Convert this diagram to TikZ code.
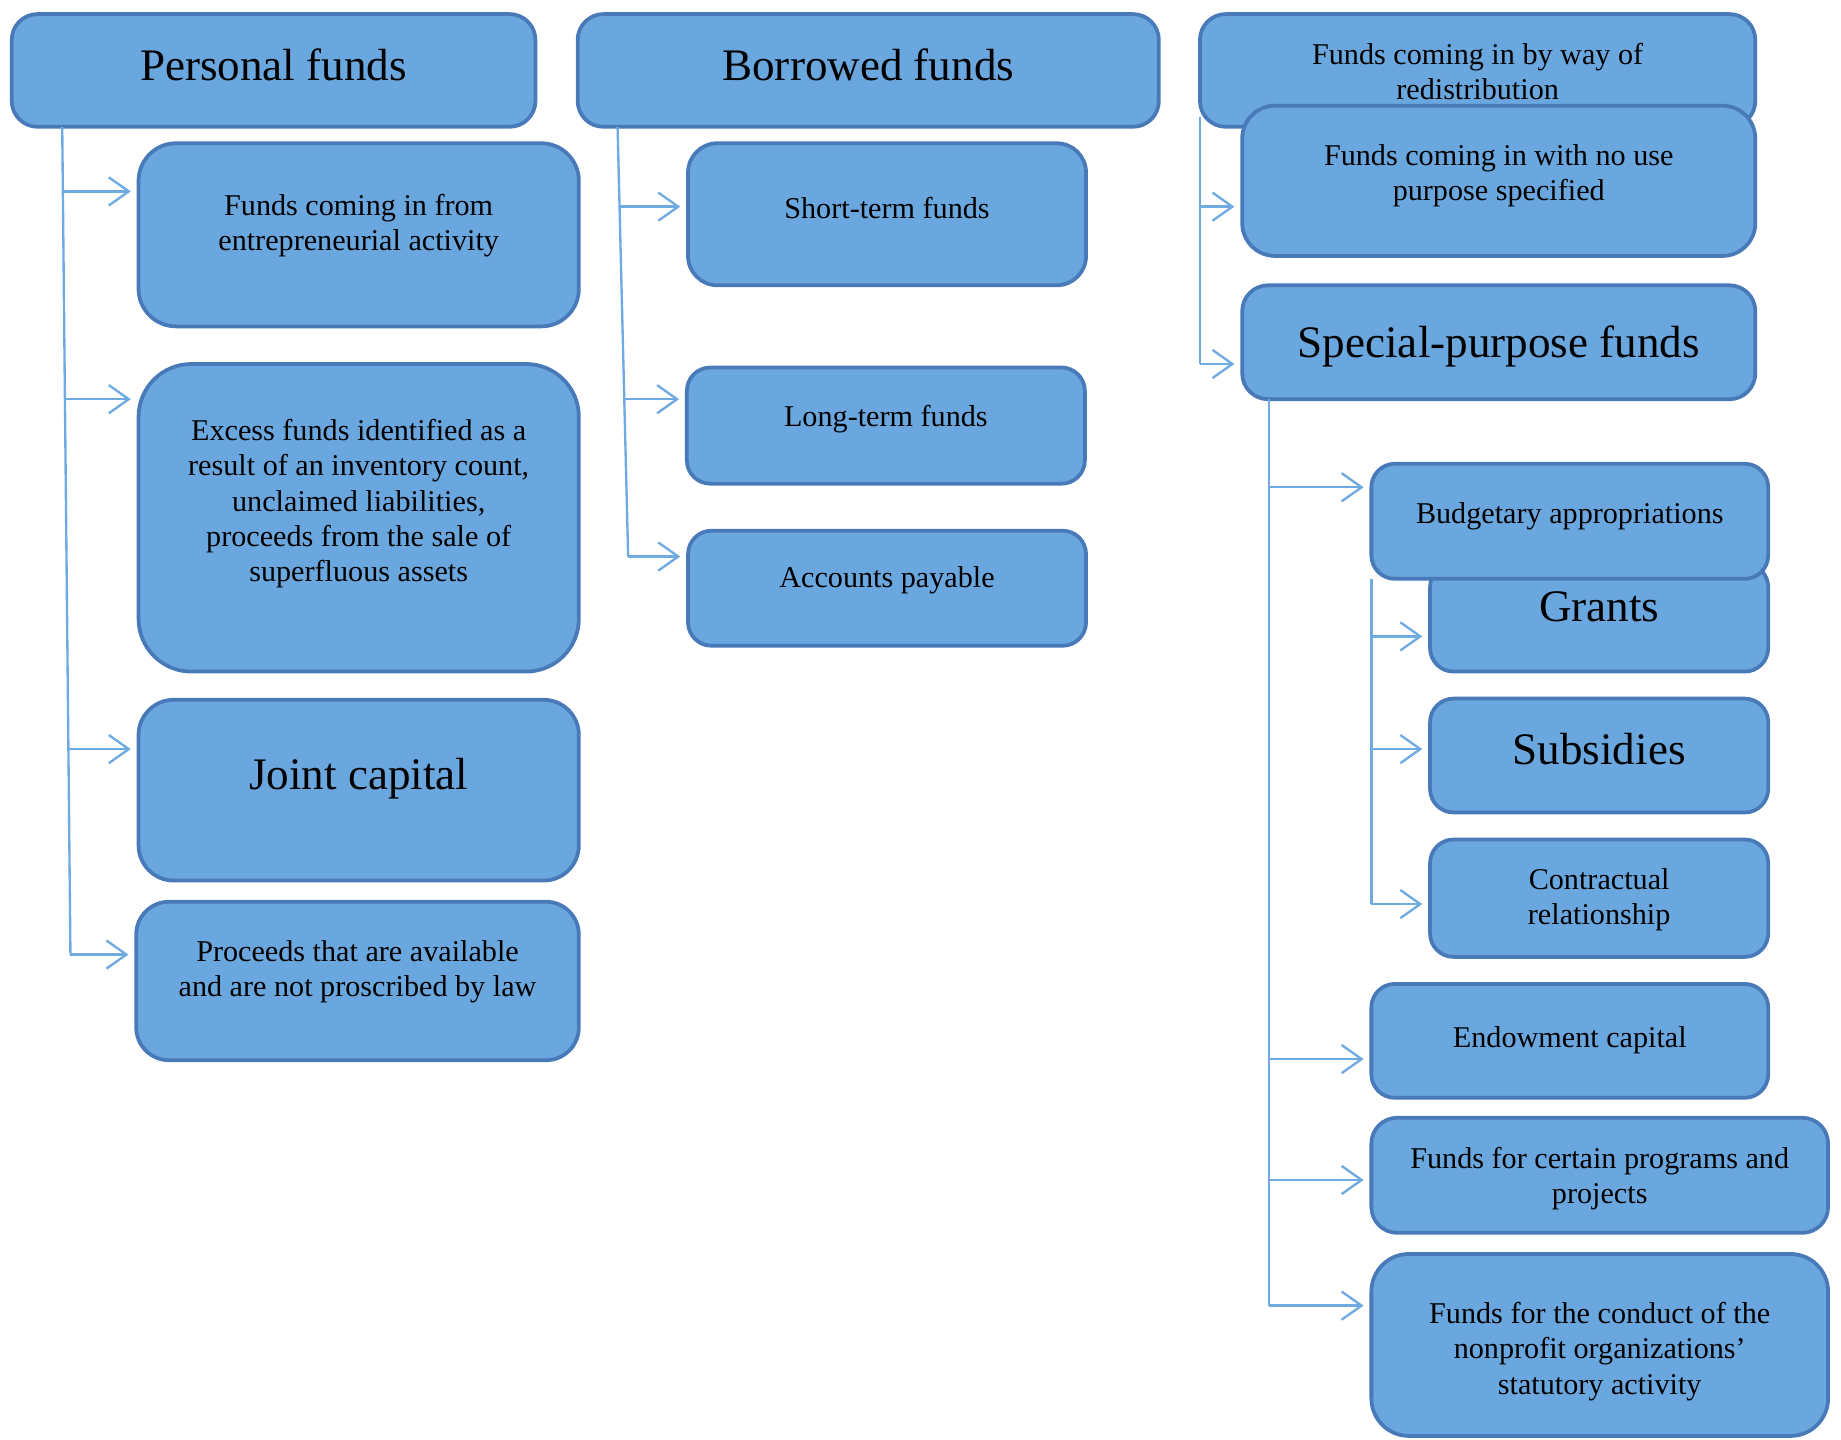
\documentclass[tikz,border=0pt]{standalone}
\usepackage{fontspec}
\setmainfont{Liberation Serif}
\usetikzlibrary{arrows.meta}

\definecolor{boxfill}{HTML}{6AA7DE}
\definecolor{boxline}{HTML}{4879B8}
\definecolor{linkc}{HTML}{6FAAE0}

\newcommand\smallsz{\fontsize{12.85pt}{15pt}\selectfont}
\newcommand\largesz{\fontsize{19.2pt}{23pt}\selectfont}

% #1 name, #2 x1, #3 y1, #4 x2, #5 y2 (units), #6 corner radius (units),
% #7 y of the text centre (units), #8 font, #9 text
\newcommand\fundbox[9]{%
  \pgfmathsetmacro\cx{(#2+#4)/2}%
  \pgfmathsetmacro\cy{(#3+#5)/2}%
  \pgfmathsetmacro\bw{(#4-#2)*0.5}%
  \pgfmathsetmacro\bh{(#5-#3)*0.5}%
  \pgfmathsetmacro\rr{#6*0.5}%
  \node[box, minimum width=\bw pt, minimum height=\bh pt,
        rounded corners=\rr pt] (#1) at (\cx,\cy) {};
  \node[txt, font=#8] (#1-t) at (\cx,#7) {#9};
}

\begin{document}
\begin{tikzpicture}[x=0.5pt,y=-0.5pt,
  box/.style={rectangle, draw=boxline, line width=1.6pt, fill=boxfill, inner sep=0pt},
  txt/.style={align=center, inner sep=0pt, text=black},
  conn/.style={draw=linkc, line width=1pt},
  arr/.style={conn, shorten >=2.5pt, -{Straight Barb[length=8.5pt,width=12pt]}}]

\useasboundingbox (0,0) rectangle (1568,1226);

% ---- personal funds column
\fundbox{pf}{10}{12}{456}{108}{22}{55}{\largesz}{Personal funds}
\fundbox{ent}{118}{122}{493}{278}{32}{192}{\smallsz}{Funds coming in from\\ entrepreneurial activity}
\fundbox{exc}{118}{310}{493}{572}{45}{429}{\smallsz}{Excess funds identified as a\\ result of an inventory count,\\ unclaimed liabilities,\\ proceeds from the sale of\\ superfluous assets}
\fundbox{jc}{118}{596}{493}{750}{30}{663}{\largesz}{Joint capital}
\fundbox{pro}{116}{768}{493}{903}{28}{828}{\smallsz}{Proceeds that are available\\ and are not proscribed by law}

% ---- borrowed funds column
\fundbox{bf}{492}{12}{987}{108}{22}{55}{\largesz}{Borrowed funds}
\fundbox{st}{586}{122}{925}{243}{25}{177}{\smallsz}{Short-term funds}
\fundbox{lt}{585}{313}{924}{412}{20}{357}{\smallsz}{Long-term funds}
\fundbox{ap}{586}{452}{925}{550}{20}{494}{\smallsz}{Accounts payable}

% ---- redistribution column
\fundbox{rd}{1022}{12}{1495}{108}{22}{61}{\smallsz}{Funds coming in by way of\\ redistribution}
\fundbox{nu}{1058}{90}{1495}{218}{28}{150}{\smallsz}{Funds coming in with no use\\ purpose specified}
\fundbox{sp}{1058}{243}{1495}{340}{22}{295}{\largesz}{Special-purpose funds}
\fundbox{gr}{1218}{480}{1506}{572}{20}{517}{\largesz}{Grants}
\fundbox{ba}{1168}{395}{1506}{493}{20}{440}{\smallsz}{Budgetary appropriations}
\fundbox{sb}{1218}{595}{1506}{692}{20}{638}{\largesz}{Subsidies}
\fundbox{cr}{1218}{715}{1506}{815}{20}{766}{\smallsz}{Contractual\\ relationship}
\fundbox{en}{1168}{838}{1506}{935}{20}{886}{\smallsz}{Endowment capital}
\fundbox{cp}{1168}{952}{1557}{1050}{22}{1004}{\smallsz}{Funds for certain programs and\\ projects}
\fundbox{cd}{1168}{1068}{1557}{1223}{32}{1151}{\smallsz}{Funds for the conduct of the\\ nonprofit organizations'\\ statutory activity}

% ---- trunks of the connectors
\coordinate (pa0) at (53,108);
\coordinate (pa1) at (53.5,163);
\coordinate (pa2) at (55.3,340);
\coordinate (pa3) at (58.3,638);
\coordinate (pa4) at (60,813);

\coordinate (pb0) at (526,108);
\coordinate (pb1) at (526.8,176);
\coordinate (pb2) at (531,340);
\coordinate (pb3) at (535,474);

\coordinate (pc0) at (1022,100);
\coordinate (pc1) at (1022,176);
\coordinate (pc2) at (1022,310);

\coordinate (pd0) at (1081,340);
\coordinate (pd1) at (1081,415);
\coordinate (pd2) at (1081,902);
\coordinate (pd3) at (1081,1005);
\coordinate (pd4) at (1081,1112);

\coordinate (pe0) at (1168,493);
\coordinate (pe1) at (1168,542);
\coordinate (pe2) at (1168,638);
\coordinate (pe3) at (1168,770);

\draw[conn] (pa0) -- (pa4);
\draw[arr] (pa1) -- (ent.west |- pa1);
\draw[arr] (pa2) -- (exc.west |- pa2);
\draw[arr] (pa3) -- (jc.west |- pa3);
\draw[arr] (pa4) -- (pro.west |- pa4);

\draw[conn] (pb0) -- (pb3);
\draw[arr] (pb1) -- (st.west |- pb1);
\draw[arr] (pb2) -- (lt.west |- pb2);
\draw[arr] (pb3) -- (ap.west |- pb3);

\draw[conn] (pc0) -- (pc2);
\draw[arr] (pc1) -- (nu.west |- pc1);
\draw[arr] (pc2) -- (sp.west |- pc2);

\draw[conn] (pd0) -- (pd4);
\draw[arr] (pd1) -- (ba.west |- pd1);
\draw[arr] (pd2) -- (en.west |- pd2);
\draw[arr] (pd3) -- (cp.west |- pd3);
\draw[arr] (pd4) -- (cd.west |- pd4);

\draw[conn] (pe0) -- (pe3);
\draw[arr] (pe1) -- (gr.west |- pe1);
\draw[arr] (pe2) -- (sb.west |- pe2);
\draw[arr] (pe3) -- (cr.west |- pe3);

\end{tikzpicture}
\end{document}
